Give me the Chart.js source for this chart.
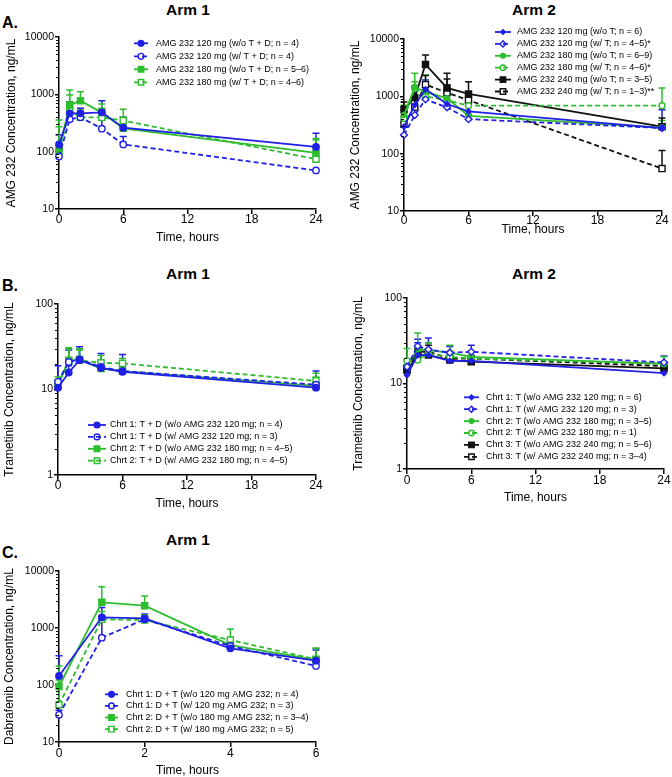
<!DOCTYPE html>
<html>
<head>
<meta charset="utf-8">
<script src="https://cdn.jsdelivr.net/npm/chart.js@4"></script>
<style>
  html, body { margin:0; padding:0; background:#fff; }
  #wrap { position:relative; width:672px; height:777px; overflow:hidden; background:#fff; font-family:"Liberation Sans", Arial, sans-serif; }
  .t { position:absolute; transform:translate(-50%,-50%); font-weight:bold; font-size:15.5px; line-height:1; color:#000; white-space:nowrap; }
  .p { position:absolute; transform:translateY(-50%); font-weight:bold; font-size:16px; line-height:1; color:#000; }
</style>
</head>
<body>
<div id="wrap">
  <div class="p" style="left:2px;top:22.5px">A.</div>
  <div class="p" style="left:2px;top:286px">B.</div>
  <div class="p" style="left:2px;top:552.5px">C.</div>
  <div class="t" style="left:188px;top:9.5px">Arm 1</div>
  <div class="t" style="left:534px;top:9.5px">Arm 2</div>
  <div class="t" style="left:188px;top:273.5px">Arm 1</div>
  <div class="t" style="left:534px;top:273.5px">Arm 2</div>
  <div class="t" style="left:188px;top:540px">Arm 1</div>
</div>
<script>
// ---------------- DATA ----------------
const hoursAB = [0, 1, 2, 4, 6, 24];
const hoursC = [0, 1, 2, 4, 6];
const ticksX_AB = [0, 6, 12, 18, 24];
const ticksX_C = [0, 2, 4, 6];

// Panel A, Arm 1 – AMG 232 concentration (ng/mL): mean and mean+SD
const labelsA1 = ['AMG 232 120 mg (w/o T + D; n = 4)', 'AMG 232 120 mg (w/ T + D; n = 4)', 'AMG 232 180 mg (w/o T + D; n = 5–6)', 'AMG 232 180 mg (w/ T + D; n = 4–6)'];
const a1_120_wo = [134, 467, 467, 485, 262, 121];
const a1_120_wo_up = [195, 745, 570, 775, 397, 210];
const a1_120_w = [82, 366, 397, 252, 134, 47];
const a1_120_w_up = [107, 470, 500, 400, 183, null];
const a1_180_wo = [107, 650, 776, 480, 255, 95];
const a1_180_wo_up = [273, 1190, 1110, 680, 400, 170];
const a1_180_w = [100, 530, 397, 397, 348, 74];
const a1_180_w_up = [357, 975, 533, 570, 548, 160];

// Panel A, Arm 2 – AMG 232 concentration (ng/mL)
const labelsA2 = ['AMG 232 120 mg (w/o T; n = 6)', 'AMG 232 120 mg (w/ T; n = 4–5)*', 'AMG 232 180 mg (w/o T; n = 6–9)', 'AMG 232 180 mg (w/ T; n = 4–6)*', 'AMG 232 240 mg (w/o T; n = 3–5)', 'AMG 232 240 mg (w/ T; n = 1–3)**'];
const a2_120_wo = [296, 706, 1325, 735, 545, 280];
const a2_120_wo_up = [400, 1000, 1925, 1130, 860, 585];
const a2_120_w = [212, 472, 886, 642, 400, 280];
const a2_120_w_up = [290, 620, 1100, 800, 480, 330];
const a2_180_wo = [472, 1450, 1200, 923, 458, 285];
const a2_180_wo_up = [700, 2520, 2350, 1575, 705, 380];
const a2_180_w = [413, 1380, 1000, 860, 686, 686];
const a2_180_w_up = [578, 1800, 1500, 1200, 900, 1400];
const a2_240_wo = [583, 950, 3600, 1400, 1100, 295];
const a2_240_wo_up = [800, 1500, 5250, 2520, 1800, 417];
const a2_240_w = [330, 650, 1600, 1160, 855, 55];
const a2_240_w_up = [450, 900, 2300, 2000, 1200, 114];

// Panel B, Arm 1 – Trametinib concentration (ng/mL)
const labelsB1 = ['Chrt 1: T + D (w/o AMG 232 120 mg; n = 4)', 'Chrt 1: T + D (w/ AMG 232 120 mg; n = 3)', 'Chrt 2: T + D (w/o AMG 232 180 mg; n = 4–5)', 'Chrt 2: T + D (w/ AMG 232 180 mg; n = 4–5)'];
const b1_c1_wo = [10.5, 15.8, 22, 17.9, 16.1, 10.5];
const b1_c1_wo_up = [12, 19, 30, 21, 18.5, 12];
const b1_c1_w = [12.3, 21, 22.5, 18.4, 16.4, 11.4];
const b1_c1_w_up = [19, 28.9, 31.6, 26.4, 25.7, 16.5];
const b1_c2_wo = [11.2, 21.6, 22.5, 17.6, 16.4, 11];
const b1_c2_wo_up = [13, 30, 29, 22, 20, 14];
const b1_c2_w = [11.8, 22, 22, 20.5, 20.2, 12.6];
const b1_c2_w_up = [14, 30.7, 30, 25, 23, 15.5];

// Panel B, Arm 2 – Trametinib concentration (ng/mL)
const labelsB2 = ['Chrt 1: T (w/o AMG 232 120 mg; n = 6)', 'Chrt 1: T (w/ AMG 232 120 mg; n = 3)', 'Chrt 2: T (w/o AMG 232 180 mg; n = 3–5)', 'Chrt 2: T (w/ AMG 232 180 mg; n = 1)', 'Chrt 3: T (w/o AMG 232 240 mg; n = 5–6)', 'Chrt 3: T (w/ AMG 232 240 mg; n = 3–4)'];
const b2_c1_wo = [12.5, 21.5, 21.5, 18.4, 18.4, 13.2];
const b2_c1_wo_up = [15, 30, 30, 21, 21, 15];
const b2_c1_w = [15.7, 27.4, 25, 22.9, 23.5, 17.6];
const b2_c1_w_up = [19, 33, 34, 27, 28, 21];
const b2_c2_wo = [16, 25, 24.5, 22.9, 20.5, 17];
const b2_c2_wo_up = [25.6, 39, 30, 28, 24, 20.5];
const b2_c2_w = [18.4, 18.8, 22.4, 20.5, 19.6, 17];
const b2_c2_w_up = [null, null, null, null, null, null];
const b2_c3_wo = [14.3, 21.5, 21.5, 18.8, 18, 15];
const b2_c3_wo_up = [16, 24, 25, 20, 19.5, 16.5];
const b2_c3_w = [15, 23.5, 23.5, 19.6, 19.6, 16];
const b2_c3_w_up = [16.5, 26, 28, 21, 21, 18];

// Panel C, Arm 1 – Dabrafenib concentration (ng/mL)
const labelsC = ['Chrt 1: D + T (w/o 120 mg AMG 232; n = 4)', 'Chrt 1: D + T (w/ 120 mg AMG 232; n = 3)', 'Chrt 2: D + T (w/o 180 mg AMG 232; n = 3–4)', 'Chrt 2: D + T (w/ 180 mg AMG 232; n = 5)'];
const c_c1_wo = [144, 1540, 1480, 440, 267];
const c_c1_wo_up = [327, 2300, 1760, 520, 410];
const c_c1_w = [30, 676, 1420, 483, 216];
const c_c1_w_up = [36, 1380, 1600, 560, 260];
const c_c2_wo = [94, 2820, 2460, 500, 275];
const c_c2_wo_up = [216, 5300, 3640, 620, 440];
const c_c2_w = [45, 1420, 1380, 616, 282];
const c_c2_w_up = [122, 1940, 1700, 960, 440];

// ---------------- STYLES ----------------
const BLUE = '#2020e6', GREEN = '#2dbd2d', BLACK = '#111111';
function style(color, dashed, shape, open, r) {
  return {
    borderColor: color, backgroundColor: color, borderWidth: 1.8,
    borderDash: dashed ? [5, 3] : [],
    pointStyle: shape, pointRadius: r, pointHoverRadius: r,
    pointBackgroundColor: open ? '#ffffff' : color,
    pointBorderColor: color, pointBorderWidth: 1.4,
    isOpen: open, tension: 0, clip: false
  };
}
function ds(label, hours, vals, ups, st) {
  return Object.assign({ label: label, data: hours.map((h, i) => ({ x: h, y: vals[i] })), errUp: ups }, st);
}

// ---------------- PLUGINS ----------------
function isDecade(v) { const l = Math.log10(v); return Math.abs(l - Math.round(l)) < 1e-9; }

const errBars = {
  id: 'errBars',
  beforeDatasetsDraw(chart) {
    const ctx = chart.ctx, xs = chart.scales.x, ys = chart.scales.y;
    chart.data.datasets.forEach(d => {
      if (!d.errUp) return;
      ctx.save();
      ctx.strokeStyle = d.borderColor; ctx.lineWidth = 1.5; ctx.setLineDash([]);
      d.data.forEach((p, j) => {
        const u = d.errUp[j];
        if (u == null || u <= p.y) return;
        const px = xs.getPixelForValue(p.x), py = ys.getPixelForValue(p.y), pu = ys.getPixelForValue(u);
        ctx.beginPath();
        ctx.moveTo(px, py); ctx.lineTo(px, pu);
        ctx.moveTo(px - 3.5, pu); ctx.lineTo(px + 3.5, pu);
        ctx.stroke();
      });
      ctx.restore();
    });
  }
};

const minorTicks = {
  id: 'minorTicks',
  afterDraw(chart) {
    const ys = chart.scales.y, ctx = chart.ctx, left = chart.chartArea.left;
    const d0 = Math.round(Math.log10(ys.min)), d1 = Math.round(Math.log10(ys.max));
    ctx.save(); ctx.strokeStyle = '#000'; ctx.lineWidth = 1;
    for (let d = d0; d < d1; d++) {
      for (let k = 2; k <= 9; k++) {
        const py = Math.round(ys.getPixelForValue(k * Math.pow(10, d))) + 0.5;
        ctx.beginPath(); ctx.moveTo(left - 3, py); ctx.lineTo(left, py); ctx.stroke();
      }
    }
    ctx.restore();
  }
};

const inLegend = {
  id: 'inLegend',
  afterDraw(chart, args, o) {
    if (!o || o.x == null) return;
    const ctx = chart.ctx;
    chart.data.datasets.forEach((d, i) => {
      const y = o.y + i * o.dy;
      ctx.save();
      ctx.strokeStyle = d.borderColor; ctx.lineWidth = d.borderWidth;
      ctx.setLineDash(d.borderDash || []);
      ctx.beginPath(); ctx.moveTo(o.x, y); ctx.lineTo(o.x + o.len, y); ctx.stroke();
      ctx.setLineDash([]);
      ctx.fillStyle = d.isOpen ? 'rgba(0,0,0,0)' : d.pointBackgroundColor;
      ctx.strokeStyle = d.pointBorderColor; ctx.lineWidth = d.pointBorderWidth;
      Chart.helpers.drawPoint(ctx, { pointStyle: d.pointStyle, radius: d.pointRadius * 0.9, rotation: 0, borderWidth: d.pointBorderWidth }, o.x + o.len / 2, y);
      ctx.fillStyle = '#000';
      ctx.font = 'normal 9px "Liberation Sans", Arial, sans-serif';
      ctx.textBaseline = 'middle'; ctx.textAlign = 'left';
      ctx.fillText(d.label, o.textX, y);
      ctx.restore();
    });
  }
};

Chart.defaults.font.family = '"Liberation Sans", Arial, sans-serif';
Chart.defaults.font.weight = 'normal';
Chart.defaults.color = '#000';

function makePanel(c) {
  const cv = document.createElement('canvas');
  cv.width = c.box[2]; cv.height = c.box[3];
  cv.style.cssText = 'position:absolute;left:' + c.box[0] + 'px;top:' + c.box[1] + 'px;width:' + c.box[2] + 'px;height:' + c.box[3] + 'px';
  document.getElementById('wrap').appendChild(cv);
  new Chart(cv, {
    type: 'line',
    data: { datasets: c.datasets },
    options: {
      responsive: false, animation: false, devicePixelRatio: 1,
      layout: { padding: { left: 0, top: c.padT, right: c.padR, bottom: 0 } },
      plugins: { legend: { display: false }, tooltip: { enabled: false }, inLegend: c.legend },
      scales: {
        x: {
          type: 'linear', min: 0, max: c.xTicks[c.xTicks.length - 1],
          afterBuildTicks: s => { s.ticks = c.xTicks.map(v => ({ value: v })); },
          ticks: { color: '#000', font: { size: 12, lineHeight: 1, weight: 'normal' }, padding: c.xTickPad, maxRotation: 0, autoSkip: false },
          grid: { drawOnChartArea: false, drawTicks: true, tickLength: 5, color: '#000', lineWidth: 1.5 },
          border: { display: true, color: '#000', width: 1.5 },
          title: { display: true, text: 'Time, hours', color: '#000', font: { size: 12, lineHeight: 1, weight: 'normal' }, padding: { top: 0, bottom: c.xTitlePad } },
          afterFit: s => { s.height = c.xH; }
        },
        y: {
          type: 'logarithmic', min: c.yMin, max: c.yMax,
          ticks: { color: '#000', font: { size: 10.5, lineHeight: 1, weight: 'normal' }, padding: 1, autoSkip: false,
                   callback: v => isDecade(v) ? String(Math.round(v)) : '' },
          grid: { drawOnChartArea: false, drawTicks: true, tickLength: 4, lineWidth: 1.5,
                  color: x => (x.tick && isDecade(x.tick.value)) ? '#000' : 'rgba(0,0,0,0)' },
          border: { display: true, color: '#000', width: 1.5 },
          title: { display: true, text: c.yTitle, color: '#000', font: { size: 12, lineHeight: 1, weight: 'normal' }, padding: { top: c.yTitlePad, bottom: 0 } },
          afterFit: s => { s.width = c.yW; }
        }
      }
    },
    plugins: [errBars, minorTicks, inLegend]
  });
}

// style sets
const sA1 = [style(BLUE, false, 'circle', false, 3.2), style(BLUE, true, 'circle', true, 3.2), style(GREEN, false, 'rect', false, 4.3), style(GREEN, true, 'rect', true, 4.3)];
const sA2 = [style(BLUE, false, 'rectRot', false, 2.6), style(BLUE, true, 'rectRot', true, 3.4), style(GREEN, false, 'circle', false, 2.6), style(GREEN, true, 'circle', true, 3), style(BLACK, false, 'rect', false, 4.3), style(BLACK, true, 'rect', true, 4.3)];

makePanel({
  box: [0, 0, 336, 250], padT: 37, padR: 20, yW: 59, xH: 41,
  yMin: 10, yMax: 10000, xTicks: ticksX_AB, xTickPad: 0, xTitlePad: 6.3, yTitlePad: 5.7,
  yTitle: 'AMG 232 Concentration, ng/mL',
  legend: { x: 134, len: 14, textX: 156, y: 43.3, dy: 13 },
  datasets: [
    ds(labelsA1[0], hoursAB, a1_120_wo, a1_120_wo_up, sA1[0]),
    ds(labelsA1[1], hoursAB, a1_120_w, a1_120_w_up, sA1[1]),
    ds(labelsA1[2], hoursAB, a1_180_wo, a1_180_wo_up, sA1[2]),
    ds(labelsA1[3], hoursAB, a1_180_w, a1_180_w_up, sA1[3])
  ]
});

makePanel({
  box: [336, 0, 336, 250], padT: 39, padR: 10, yW: 68, xH: 39,
  yMin: 10, yMax: 10000, xTicks: ticksX_AB, xTickPad: -1.7, xTitlePad: 14, yTitlePad: 14,
  yTitle: 'AMG 232 Concentration, ng/mL',
  legend: { x: 159, len: 16, textX: 181, y: 32, dy: 11.9 },
  datasets: [
    ds(labelsA2[0], hoursAB, a2_120_wo, a2_120_wo_up, sA2[0]),
    ds(labelsA2[1], hoursAB, a2_120_w, a2_120_w_up, sA2[1]),
    ds(labelsA2[2], hoursAB, a2_180_wo, a2_180_wo_up, sA2[2]),
    ds(labelsA2[3], hoursAB, a2_180_w, a2_180_w_up, sA2[3]),
    ds(labelsA2[4], hoursAB, a2_240_wo, a2_240_wo_up, sA2[4]),
    ds(labelsA2[5], hoursAB, a2_240_w, a2_240_w_up, sA2[5])
  ]
});

makePanel({
  box: [0, 255, 336, 260], padT: 49, padR: 20, yW: 58, xH: 40,
  yMin: 1, yMax: 100, xTicks: ticksX_AB, xTickPad: -0.3, xTitlePad: 5, yTitlePad: 4,
  yTitle: 'Trametinib Concentration, ng/mL',
  legend: { x: 88, len: 18, textX: 110, y: 170, dy: 11.9 },
  datasets: [
    ds(labelsB1[0], hoursAB, b1_c1_wo, b1_c1_wo_up, sA1[0]),
    ds(labelsB1[1], hoursAB, b1_c1_w, b1_c1_w_up, sA1[1]),
    ds(labelsB1[2], hoursAB, b1_c2_wo, b1_c2_wo_up, sA1[2]),
    ds(labelsB1[3], hoursAB, b1_c2_w, b1_c2_w_up, sA1[3])
  ]
});

makePanel({
  box: [336, 255, 336, 260], padT: 43, padR: 8, yW: 71, xH: 46,
  yMin: 1, yMax: 100, xTicks: ticksX_AB, xTickPad: 0.7, xTitlePad: 11, yTitlePad: 17,
  yTitle: 'Trametinib Concentration, ng/mL',
  legend: { x: 128, len: 15, textX: 150, y: 142.3, dy: 11.9 },
  datasets: [
    ds(labelsB2[0], hoursAB, b2_c1_wo, b2_c1_wo_up, sA2[0]),
    ds(labelsB2[1], hoursAB, b2_c1_w, b2_c1_w_up, sA2[1]),
    ds(labelsB2[2], hoursAB, b2_c2_wo, b2_c2_wo_up, sA2[2]),
    ds(labelsB2[3], hoursAB, b2_c2_w, b2_c2_w_up, sA2[3]),
    ds(labelsB2[4], hoursAB, b2_c3_wo, b2_c3_wo_up, sA2[4]),
    ds(labelsB2[5], hoursAB, b2_c3_w, b2_c3_w_up, sA2[5])
  ]
});

makePanel({
  box: [0, 515, 336, 262], padT: 56, padR: 20, yW: 59, xH: 35,
  yMin: 10, yMax: 10000, xTicks: ticksX_C, xTickPad: 1, xTitlePad: 0, yTitlePad: 4,
  yTitle: 'Dabrafenib Concentration, ng/mL',
  legend: { x: 105, len: 13, textX: 126, y: 179.3, dy: 11.6 },
  datasets: [
    ds(labelsC[0], hoursC, c_c1_wo, c_c1_wo_up, sA1[0]),
    ds(labelsC[1], hoursC, c_c1_w, c_c1_w_up, sA1[1]),
    ds(labelsC[2], hoursC, c_c2_wo, c_c2_wo_up, sA1[2]),
    ds(labelsC[3], hoursC, c_c2_w, c_c2_w_up, sA1[3])
  ]
});
</script>
</body>
</html>
